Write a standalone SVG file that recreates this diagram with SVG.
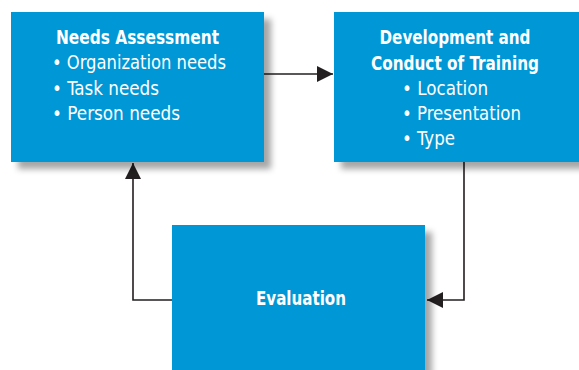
<svg xmlns="http://www.w3.org/2000/svg" width="579" height="370" viewBox="0 0 579 370">
<style>
.box{fill:#0097d6;filter:url(#sh)}
.t{font-family:"Liberation Sans Narrow","DejaVu Sans Condensed","Liberation Sans",sans-serif;fill:#fff;font-size:20px}
.b{font-weight:bold}
.c{stroke:#231f20;stroke-width:1.6;fill:none}
</style>
<defs>
<filter id="sh" x="-10%" y="-10%" width="130%" height="130%">
<feDropShadow dx="7" dy="7" stdDeviation="3" flood-color="#000" flood-opacity="0.35"/>
</filter>
<marker id="ah" viewBox="0 0 10 10" refX="10" refY="5" markerWidth="10" markerHeight="10" markerUnits="userSpaceOnUse" orient="auto">
<path d="M0,0 L10,5 L0,10 z" fill="#231f20"/>
</marker>
<marker id="ahb" viewBox="0 0 16 16" refX="16" refY="8" markerWidth="16" markerHeight="16" markerUnits="userSpaceOnUse" orient="auto">
<path d="M0,0 L16,8 L0,16 z" fill="#231f20"/>
</marker>
</defs>
<g id="connectors">
<path class="c" d="M264,74 H333" marker-end="url(#ahb)"/>
<path class="c" d="M172,300 H133 V163" marker-end="url(#ahb)"/>
<path class="c" d="M464,162 V300 H427" marker-end="url(#ahb)"/>
</g>
<g id="needs">
<rect class="box" x="11" y="12" width="253" height="150"/>
<text class="t b" x="137.5" y="44" text-anchor="middle" textLength="163" lengthAdjust="spacingAndGlyphs">Needs Assessment</text>
<text class="t" x="52" y="69" textLength="174" lengthAdjust="spacingAndGlyphs">• Organization needs</text>
<text class="t" x="52" y="95" textLength="107" lengthAdjust="spacingAndGlyphs">• Task needs</text>
<text class="t" x="52" y="120" textLength="128" lengthAdjust="spacingAndGlyphs">• Person needs</text>
</g>
<g id="development">
<rect class="box" x="334" y="12" width="260" height="150"/>
<text class="t b" x="455" y="44" text-anchor="middle" textLength="151" lengthAdjust="spacingAndGlyphs">Development and</text>
<text class="t b" x="455" y="70" text-anchor="middle" textLength="168" lengthAdjust="spacingAndGlyphs">Conduct of Training</text>
<text class="t" x="402" y="95" textLength="86" lengthAdjust="spacingAndGlyphs">• Location</text>
<text class="t" x="402" y="120" textLength="119" lengthAdjust="spacingAndGlyphs">• Presentation</text>
<text class="t" x="402" y="145" textLength="53" lengthAdjust="spacingAndGlyphs">• Type</text>
</g>
<g id="evaluation">
<rect class="box" x="172" y="225" width="253" height="160"/>
<text class="t b" x="301" y="305" text-anchor="middle" textLength="90" lengthAdjust="spacingAndGlyphs">Evaluation</text>
</g>
</svg>
